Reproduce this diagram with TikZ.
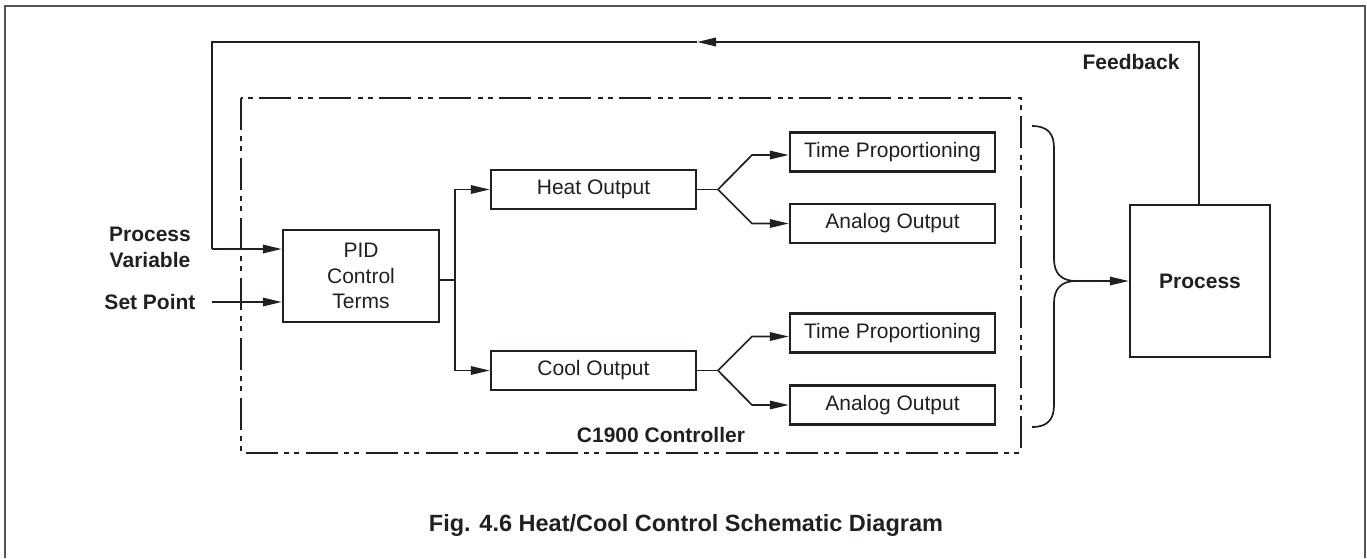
\documentclass[tikz,border=0pt]{standalone}
\usepackage{fontspec}
\setmainfont{Liberation Sans}
\usetikzlibrary{arrows.meta,calc}
\definecolor{ink}{HTML}{231F20}
\definecolor{framegray}{HTML}{555555}
\tikzset{
  txt/.style={font=\fontsize{21}{25.5}\selectfont, text=ink},
  btxt/.style={font=\fontsize{21}{25.5}\selectfont\bfseries, text=ink},
  blk/.style={draw=ink, line width=2.5pt, inner sep=0pt, align=center, txt},
  conn/.style={draw=ink, line width=1.7pt},
  arr/.style={conn, -{Triangle[length=19pt,width=8.5pt]}},
  ctrlbox/.style={draw=ink, line width=2.3pt, dash pattern=on 32pt off 6pt on 5pt off 5pt on 5pt off 7pt},
}
\begin{document}
\begin{tikzpicture}[x=1pt,y=-1pt]
\useasboundingbox (0,0) rectangle (1367,558);
% outer frame (open at bottom)
\draw[framegray, line width=1.6pt] (5,558) -- (5,6) -- (1365,6) -- (1365,558);
% controller boundary
\draw[ctrlbox] (241,98) rectangle (1021,453);
\node[btxt, anchor=center] (ctrllabel) at (661,435) {C1900 Controller};

% blocks
\node[blk, minimum width=156pt, minimum height=92pt] (pid) at (361,276) {PID\\Control\\Terms};
\node[blk, minimum width=205pt, minimum height=39pt] (heat) at (593.5,189.5) {Heat Output};
\node[blk, minimum width=205pt, minimum height=39pt] (cool) at (593.5,370.5) {Cool Output};
\node[blk, minimum width=205pt, minimum height=39pt] (tph) at (892.5,152) {Time Proportioning};
\node[blk, minimum width=205pt, minimum height=39pt] (aoh) at (892.5,223.5) {Analog Output};
\node[blk, minimum width=205pt, minimum height=39pt] (tpc) at (892.5,333) {Time Proportioning};
\node[blk, minimum width=205pt, minimum height=39pt] (aoc) at (892.5,405) {Analog Output};
\node[blk, btxt, minimum width=140pt, minimum height=152pt] (proc) at (1200,281) {Process};

% input labels
\node[btxt, align=center] (pv) at (150,247.5) {Process\\Variable};
\node[btxt] (sp) at (150,302) {Set Point};
\node[btxt, anchor=east] (fb) at (1183,62) {Feedback};

% caption
\node[btxt, font=\fontsize{23.5}{28}\selectfont\bfseries] (cap) at (686,525) {Fig. 4.6 Heat/Cool Control Schematic Diagram};

% coordinates
\coordinate (fbl) at (212,42);
\coordinate (fbr) at (1199,42);
\coordinate (fbmid) at (697,42);
\coordinate (pvin) at (212,249);
\coordinate (spin) at (212,302);
\coordinate (pidout) at (439,280);
\coordinate (split) at (455,280);
\coordinate (hj) at (718,189.5);
\coordinate (hu) at (752,155);
\coordinate (hd) at (752,223.5);
\coordinate (cj) at (718,370.5);
\coordinate (cu) at (752,336.5);
\coordinate (cd) at (752,405);
\coordinate (brtop) at (1032,126);
\coordinate (brmid) at (1076,281);
\coordinate (brbot) at (1032,427);

% feedback loop
\draw[arr] (proc.north -| fbr) -- (fbr) -- (fbmid);
\draw[conn] (fbmid) -- (fbl) -- (pvin);
\draw[arr] (pvin) -- (pvin -| pid.west);
\draw[arr] (spin) -- (spin -| pid.west);

% PID split
\draw[conn] (pidout) -- (split);
\draw[arr] (split) |- (heat.west);
\draw[arr] (split) |- (cool.west);

% heat branches
\draw[conn] (heat.east) -- (hj);
\draw[arr] (hj) -- (hu) -- (hu -| tph.west);
\draw[arr] (hj) -- (hd) -- (hd -| aoh.west);
% cool branches
\draw[conn] (cool.east) -- (cj);
\draw[arr] (cj) -- (cu) -- (cu -| tpc.west);
\draw[arr] (cj) -- (cd) -- (cd -| aoc.west);

% brace to process
\draw[conn] (brtop) .. controls (1048,126) and (1054,134) .. (1054,148) -- (1054,259)
  .. controls (1054,273) and (1061,281) .. (brmid)
  .. controls (1061,281) and (1054,289) .. (1054,303) -- (1054,405)
  .. controls (1054,419) and (1048,427) .. (brbot);
\draw[arr] (brmid) -- (proc.west);
\end{tikzpicture}
\end{document}
